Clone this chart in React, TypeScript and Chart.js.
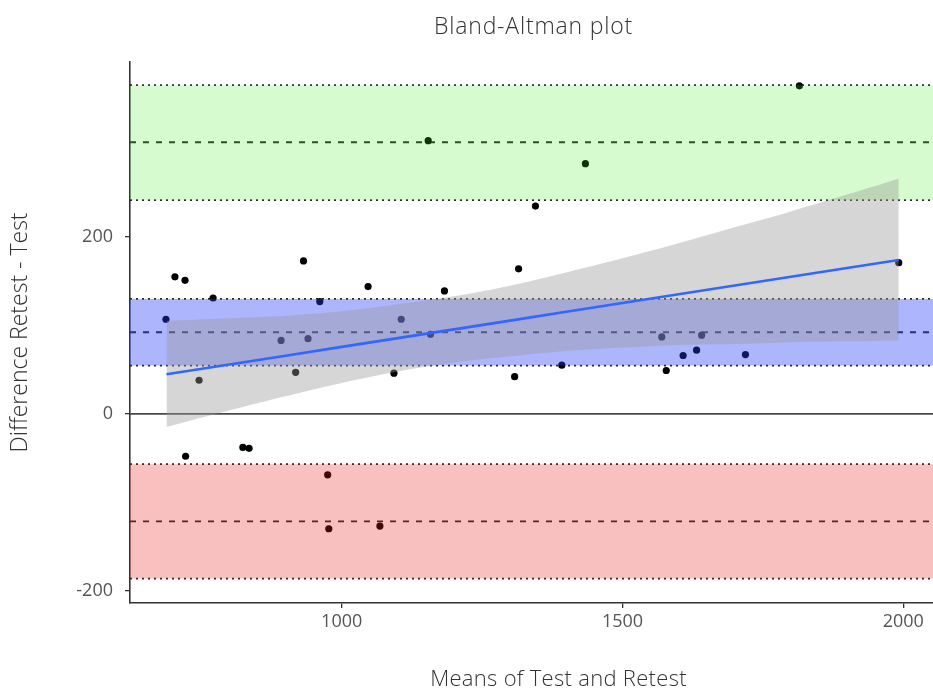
import { useEffect, useRef } from "react";
import { Chart, registerables } from "chart.js";

Chart.register(...registerables);

// Axis ranges and ticks
const X_MIN = 623;
const X_MAX = 2053;
const Y_MIN = -214;
const Y_MAX = 398;
const X_TICKS = [1000, 1500, 2000];
const Y_TICKS = [-200, 0, 200];

// Observations: means (x) and differences (y)
const meansX = [687, 703, 721, 746, 771, 722, 824, 835, 892, 918, 932, 940, 961, 1047, 1093, 1106, 1158, 1183, 1308, 1315, 1392, 1570, 1578, 1608, 1632, 1641, 1719, 1992, 1345, 1154, 1434, 1815, 975, 977, 1068];
const diffsY = [107, 155, 151, 38, 131, -48, -38, -39, 83, 47, 173, 85, 127, 144, 46, 107, 90, 139, 42, 164, 55, 87, 49, 66, 72, 89, 67, 171, 235, 309, 283, 371, -69, -130, -127];

// Bias and limits of agreement with their confidence intervals
const BIAS = 92.3;
const BIAS_CI = [54.6, 130.0];
const UPPER_LOA = 307.3;
const UPPER_LOA_CI = [241.8, 371.8];
const LOWER_LOA = -121.7;
const LOWER_LOA_CI = [-186.4, -56.9];

// Regression fit and its confidence band
const fitX = [688, 800, 900, 1000, 1100, 1200, 1300, 1400, 1500, 1600, 1700, 1800, 1900, 1992];
const fitY = [44.8, 55.9, 65.8, 75.7, 85.6, 95.5, 105.4, 115.4, 125.3, 135.2, 145.1, 155.0, 164.9, 174.0];
const ciUpper = [105, 108, 111, 116, 124, 133, 145, 160, 176, 193, 211, 229, 248, 266];
const ciLower = [-15, 4, 20, 35, 48, 58, 65, 71, 75, 78, 79, 81, 82, 83];

const FONT = '"Open Sans", "Liberation Sans", sans-serif';

const hline = (v: number) => [
  { x: X_MIN, y: v },
  { x: X_MAX, y: v },
];

export default function App() {
  const ref = useRef<HTMLCanvasElement | null>(null);

  useEffect(() => {
    if (!ref.current) return;

    const lineDs = (v: number, dash: number[], width: number) => ({
      type: "line" as const,
      data: hline(v),
      borderColor: "#262626",
      borderWidth: width,
      borderDash: dash,
      pointRadius: 0,
      fill: false,
      order: 10,
    });

    const bandDs = (lo: number, hi: number, color: string) => [
      {
        type: "line" as const,
        data: hline(hi),
        borderColor: "transparent",
        borderWidth: 0,
        pointRadius: 0,
        backgroundColor: color,
        fill: "+1",
        order: 6,
      },
      {
        type: "line" as const,
        data: hline(lo),
        borderColor: "transparent",
        borderWidth: 0,
        pointRadius: 0,
        fill: false,
        order: 6,
      },
    ];

    const DOT = [2, 4];
    const DASH = [6, 7];

    const datasets: any[] = [
      // reference lines (under bands)
      lineDs(UPPER_LOA, DASH, 1.9),
      lineDs(UPPER_LOA_CI[0], DOT, 1.7),
      lineDs(UPPER_LOA_CI[1], DOT, 1.7),
      lineDs(BIAS, DASH, 1.9),
      lineDs(BIAS_CI[0], DOT, 1.7),
      lineDs(BIAS_CI[1], DOT, 1.7),
      lineDs(LOWER_LOA, DASH, 1.9),
      lineDs(LOWER_LOA_CI[0], DOT, 1.7),
      lineDs(LOWER_LOA_CI[1], DOT, 1.7),
      // points
      {
        type: "line",
        data: meansX.map((x, i) => ({ x, y: diffsY[i] })),
        showLine: false,
        pointRadius: 3.6,
        pointBorderWidth: 0,
        pointBackgroundColor: "#000",
        pointBorderColor: "#000",
        fill: false,
        order: 8,
      },
      // bands
      ...bandDs(UPPER_LOA_CI[0], UPPER_LOA_CI[1], "rgba(70,238,35,0.22)"),
      ...bandDs(BIAS_CI[0], BIAS_CI[1], "rgba(40,60,250,0.38)"),
      ...bandDs(LOWER_LOA_CI[0], LOWER_LOA_CI[1], "rgba(235,30,30,0.28)"),
      // zero line
      {
        type: "line",
        data: hline(0),
        borderColor: "#4a4a4a",
        borderWidth: 1.6,
        pointRadius: 0,
        fill: false,
        order: 5,
      },
      // regression CI
      {
        type: "line",
        data: fitX.map((x, i) => ({ x, y: ciUpper[i] })),
        borderColor: "transparent",
        borderWidth: 0,
        pointRadius: 0,
        tension: 0.3,
        backgroundColor: "rgba(153,153,153,0.4)",
        fill: "+1",
        order: 4,
      },
      {
        type: "line",
        data: fitX.map((x, i) => ({ x, y: ciLower[i] })),
        borderColor: "transparent",
        borderWidth: 0,
        pointRadius: 0,
        tension: 0.3,
        fill: false,
        order: 4,
      },
      // regression line
      {
        type: "line",
        data: fitX.map((x, i) => ({ x, y: fitY[i] })),
        borderColor: "#3366ff",
        borderWidth: 2.6,
        pointRadius: 0,
        fill: false,
        order: 1,
      },
    ];

    const textPlugin = {
      id: "texts",
      afterDraw(chart: any) {
        const { ctx, chartArea } = chart;
        ctx.save();
        ctx.fillStyle = "#333";
        ctx.textAlign = "center";
        ctx.textBaseline = "middle";
        const cx = (chartArea.left + chartArea.right) / 2;
        ctx.font = `300 23px ${FONT}`;
        (ctx as any).letterSpacing = "0.8px";
        ctx.fillText("Bland-Altman plot", cx + 2, 27);
        ctx.font = `300 22px ${FONT}`;
        (ctx as any).letterSpacing = "0.3px";
        ctx.fillText("Means of Test and Retest", cx + 27, 680);
        ctx.restore();
      },
    };

    const chart = new Chart(ref.current, {
      type: "line",
      data: { datasets },
      plugins: [textPlugin],
      options: {
        animation: false,
        responsive: false,
        maintainAspectRatio: false,
        layout: { autoPadding: false, padding: { top: 62, left: 0, right: 0, bottom: 0 } },
        plugins: {
          legend: { display: false },
          title: { display: false },
          tooltip: { enabled: false },
        },
        scales: {
          x: {
            type: "linear",
            min: X_MIN,
            max: X_MAX,
            afterFit: (s: any) => {
              s.height = 90;
              s.paddingLeft = 0;
              s.paddingRight = 0;
            },
            afterBuildTicks: (s: any) => {
              s.ticks = X_TICKS.map((v) => ({ value: v }));
            },
            grid: {
              display: true,
              drawOnChartArea: false,
              drawTicks: true,
              tickLength: 5,
              color: "#333",
              lineWidth: 1.3,
            },
            border: { display: true, color: "#333", width: 1.6 },
            ticks: {
              font: { family: FONT, size: 18 },
              color: "#555",
              padding: 3,
              maxRotation: 0,
              autoSkip: false,
              callback: (v: any) => String(v),
            },
          },
          y: {
            type: "linear",
            min: Y_MIN,
            max: Y_MAX,
            afterFit: (s: any) => {
              s.width = 130;
              s.paddingTop = 0;
              s.paddingBottom = 0;
            },
            afterBuildTicks: (s: any) => {
              s.ticks = Y_TICKS.map((v) => ({ value: v }));
            },
            grid: {
              display: true,
              drawOnChartArea: false,
              drawTicks: true,
              tickLength: 5,
              color: "#333",
              lineWidth: 1.3,
            },
            border: { display: true, color: "#333", width: 1.6 },
            ticks: {
              font: { family: FONT, size: 18 },
              color: "#555",
              padding: 12,
              autoSkip: false,
              callback: (v: any) => String(v),
            },
            title: {
              display: true,
              text: "Difference Retest - Test",
              font: { family: FONT, size: 23, weight: "300" as any },
              color: "#333",
              padding: { top: 7, bottom: 0 },
            },
          },
        },
      },
    });

    return () => chart.destroy();
  }, []);

  return (
    <div style={{ position: "fixed", left: 0, top: 0, width: 933, height: 693, background: "#fff" }}>
      <canvas ref={ref} width={933} height={693} style={{ width: 933, height: 693, display: "block" }} />
    </div>
  );
}
